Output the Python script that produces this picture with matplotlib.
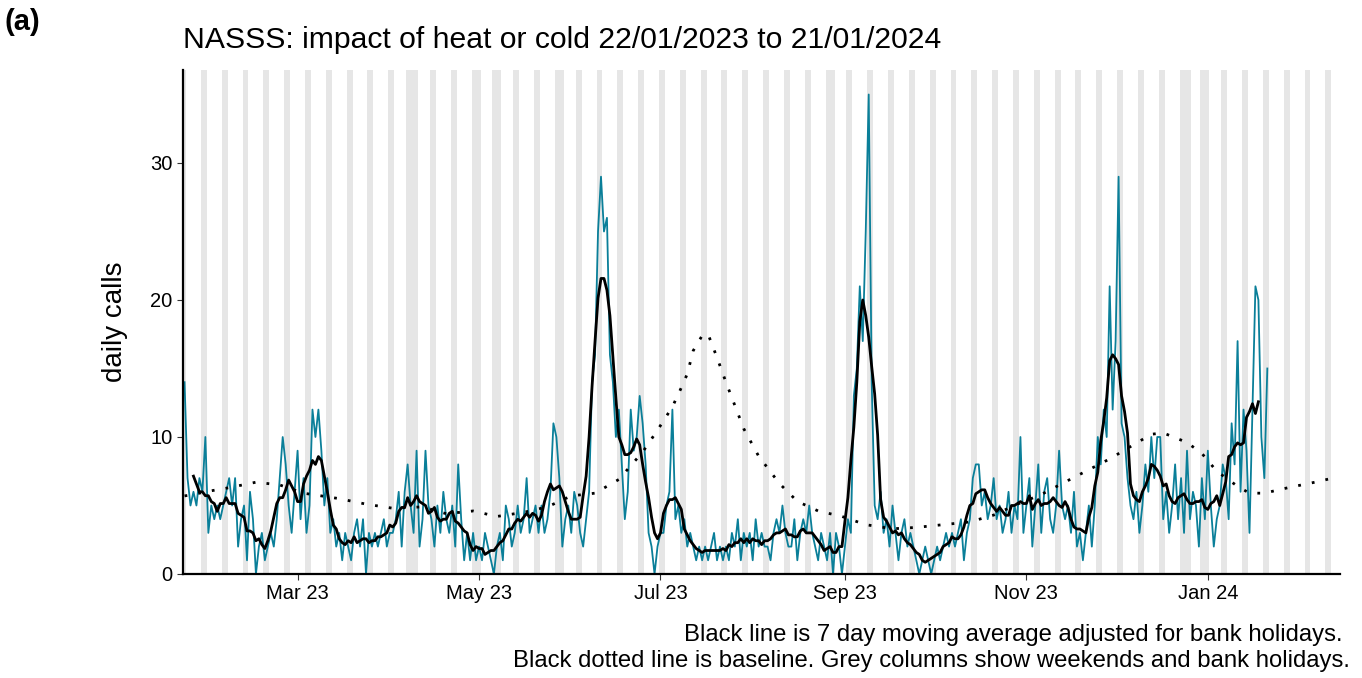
import numpy as np
import pandas as pd
import matplotlib
matplotlib.use("Agg")
import matplotlib.pyplot as plt
import matplotlib.dates as mdates

plt.rcParams['font.family'] = ['Liberation Sans', 'DejaVu Sans']

# daily calls, 22/01/2023 .. 20/01/2024 (rows are weeks starting Sunday)
calls = [
    14, 7, 5, 6, 5, 7, 6,
    10, 3, 5, 4, 5, 4, 5,
    6, 7, 5, 7, 2, 4, 5,
    1, 6, 4, 0, 2, 3, 1,
    2, 3, 2, 4, 7, 10, 8,
    5, 3, 6, 9, 4, 7, 3,
    5, 12, 10, 12, 9, 5, 7,
    3, 4, 2, 3, 1, 3, 2,
    1, 3, 4, 2, 4, 0, 3,
    2, 3, 2, 3, 4, 2, 3,
    3, 4, 6, 2, 6, 8, 5,
    3, 9, 2, 4, 9, 5, 4,
    2, 5, 3, 6, 4, 3, 5,
    2, 8, 4, 1, 3, 1, 3,
    1, 2, 1, 3, 2, 1, 0,
    2, 3, 1, 5, 4, 2, 3,
    5, 3, 4, 7, 3, 4, 5,
    3, 5, 3, 4, 6, 11, 10,
    7, 2, 4, 5, 3, 6, 5,
    3, 2, 4, 6, 14, 16, 25,
    29, 25, 26, 16, 14, 10, 12,
    8, 4, 6, 12, 9, 10, 13,
    11, 8, 3, 2, 0, 2, 3,
    3, 5, 6, 12, 4, 5, 3,
    4, 2, 3, 2, 1, 2, 1,
    2, 1, 2, 3, 1, 2, 1,
    2, 1, 3, 2, 4, 1, 3,
    2, 3, 1, 4, 2, 3, 2,
    2, 1, 3, 4, 3, 5, 3,
    2, 2, 4, 1, 3, 4, 3,
    5, 3, 2, 1, 3, 2, 1,
    3, 0, 3, 2, 0, 2, 4,
    3, 13, 15, 21, 17, 25, 35,
    14, 5, 4, 6, 3, 4, 2,
    5, 3, 1, 3, 4, 2, 3,
    2, 1, 0, 1, 2, 1, 0,
    1, 2, 1, 2, 3, 2, 3,
    2, 3, 4, 1, 3, 4, 7,
    8, 8, 5, 6, 4, 5, 7,
    4, 5, 3, 4, 6, 3, 5,
    4, 10, 3, 5, 7, 2, 5,
    8, 3, 6, 7, 4, 3, 5,
    9, 5, 4, 5, 3, 6, 2,
    3, 1, 3, 5, 2, 5, 10,
    8, 12, 10, 21, 12, 17, 29,
    11, 10, 7, 5, 4, 6, 3,
    5, 8, 6, 10, 7, 10, 10,
    4, 6, 3, 5, 8, 4, 7,
    3, 9, 4, 6, 5, 2, 7,
    4, 9, 5, 2, 4, 5, 8,
    7, 4, 11, 8, 17, 6, 12,
    9, 3, 12, 21, 20, 10, 7,
    15,
]

# baseline read at selected days after 22/01/2023
base_day = [0, 3, 7, 15, 24, 32, 40, 52, 61, 70, 80, 88, 97, 105, 114, 122, 130, 138,
            142, 146, 154, 159, 164, 167, 169, 171, 174, 176, 179, 182, 185, 188, 193,
            200, 206, 213, 221, 229, 238, 246, 255, 264, 272, 280, 288, 295, 303, 311,
            318, 325, 329, 337, 342, 347, 354, 358, 363, 371, 380, 388]
base_val = [5.7, 5.8, 6.0, 6.3, 6.7, 6.5, 5.9, 5.5, 5.1, 4.8, 4.9, 4.4, 4.6, 4.2, 4.5, 4.9,
            5.7, 5.9, 6.4, 6.9, 8.9, 10.5, 12.2, 13.6, 14.6, 16.3, 17.4, 17.5, 15.8, 14.0,
            12.3, 10.6, 8.6, 6.6, 5.3, 4.6, 4.2, 3.6, 3.3, 3.4, 3.6, 3.8, 4.3, 5.1, 5.8,
            6.6, 7.5, 8.4, 9.3, 10.2, 10.3, 9.6, 8.8, 7.5, 6.4, 5.9, 5.9, 6.3, 6.7, 7.1]

bank_holidays = ["2023-04-07", "2023-04-10", "2023-05-01", "2023-05-08", "2023-05-29",
                 "2023-08-28", "2023-12-25", "2023-12-26", "2024-01-01"]

start = pd.Timestamp("2023-01-22")
dates = pd.date_range(start, periods=len(calls), freq="D")
s = pd.Series(calls, index=dates, dtype=float)
ma = s.rolling(7, center=True).mean()
base_dates = start + pd.to_timedelta(base_day, unit="D")

fig = plt.figure(figsize=(13.62, 6.78), dpi=100)
ax = fig.add_axes([0.1344, 0.1534, 0.8496, 0.7436])

# grey columns for weekends and bank holidays
all_days = pd.date_range(start, periods=390, freq="D")
bh = set(pd.to_datetime(bank_holidays))
for d in all_days:
    if d.dayofweek >= 5 or d in bh:
        ax.axvspan(d - pd.Timedelta(hours=12), d + pd.Timedelta(hours=12),
                   color="#e6e6e6", lw=0, zorder=0)

ax.plot(dates, s.values, color="#0a7f99", lw=1.3, zorder=2)
ax.plot(dates, ma.values, color="black", lw=2.0, zorder=3)
ax.plot(base_dates, base_val, color="black", lw=2.0, ls=(0, (1, 4)), zorder=3)

ax.set_xlim(start - pd.Timedelta(hours=12), start + pd.Timedelta(days=388.5))
ax.set_ylim(0, 36.8)
ax.set_yticks([0, 10, 20, 30])
ax.xaxis.set_major_locator(mdates.MonthLocator(bymonth=[1, 3, 5, 7, 9, 11]))
ax.xaxis.set_major_formatter(mdates.DateFormatter("%b %y"))
ax.tick_params(labelsize=14.5, length=4, color="#333333")
for sp in ["top", "right"]:
    ax.spines[sp].set_visible(False)
for sp in ["left", "bottom"]:
    ax.spines[sp].set_linewidth(1.6)
ax.set_ylabel("daily calls", fontsize=20, labelpad=16)

fig.text(5 / 1362, 1 - 22 / 678, "(a)", fontsize=21, fontweight="bold", va="center")
fig.text(183 / 1362, 1 - 40 / 678, "NASSS: impact of heat or cold 22/01/2023 to 21/01/2024",
         fontsize=21.7, va="center")
fig.text(1343 / 1362, 1 - 635 / 678, "Black line is 7 day moving average adjusted for bank holidays.",
         fontsize=17.2, ha="right", va="center")
fig.text(1350 / 1362, 1 - 661 / 678,
         "Black dotted line is baseline. Grey columns show weekends and bank holidays.",
         fontsize=17.2, ha="right", va="center")

fig.savefig("out.png", dpi=100, facecolor="white")
